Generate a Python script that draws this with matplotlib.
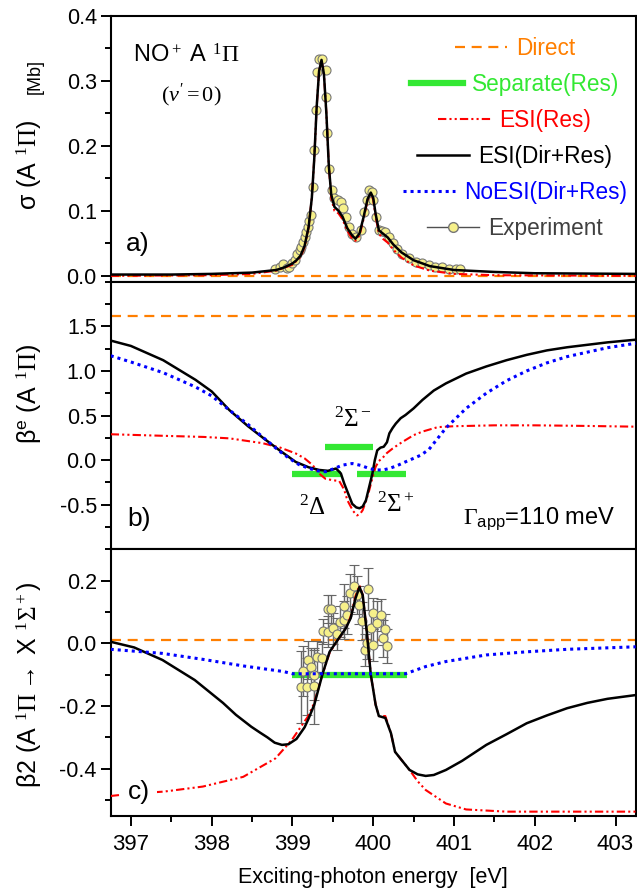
import matplotlib
matplotlib.use('Agg')
import matplotlib.pyplot as plt
from matplotlib.lines import Line2D
from matplotlib.ticker import MultipleLocator, FormatStrFormatter, FixedLocator

plt.rcParams['font.family'] = ['Liberation Sans', 'DejaVu Sans']
plt.rcParams['mathtext.fontset'] = 'custom'
plt.rcParams['mathtext.rm'] = 'Liberation Serif'
plt.rcParams['mathtext.it'] = 'Liberation Serif:italic'
plt.rcParams['mathtext.sf'] = 'Liberation Sans'
plt.rcParams['axes.unicode_minus'] = False

# --- colours / styles ---
C_DIR = '#ff7f00'
C_SEP = '#33e833'
C_RED = '#ff0000'
C_BLUE = '#0000ff'
C_YEL = '#f6f08a'
LS_DIR = (0, (4.5, 3))
LS_RED = (0, (4, 1.5, 1, 1.5, 1, 1.5))
LS_BLUE = (0, (1, 1.3))

XMIN, XMAX = 396.75, 403.25

# --- panel a) cross section ---
direct_a = 0.0
esi_a_x = [396.75, 397.5, 398.0, 398.5, 398.8, 398.9, 399.0, 399.05, 399.1, 399.15, 399.2, 399.24,
           399.27, 399.30, 399.33, 399.36, 399.39, 399.42, 399.45, 399.48, 399.52, 399.57, 399.62,
           399.68, 399.74, 399.78, 399.83, 399.88, 399.93, 399.97, 400.0, 400.03, 400.07, 400.12,
           400.18, 400.25, 400.35, 400.5, 400.7, 401.0, 401.5, 402.0, 403.25]
esi_a_y = [0.002, 0.002, 0.003, 0.005, 0.009, 0.013, 0.019, 0.024, 0.031, 0.046, 0.075, 0.12,
           0.18, 0.26, 0.315, 0.332, 0.31, 0.25, 0.17, 0.125, 0.106, 0.100, 0.091, 0.073, 0.062,
           0.057, 0.065, 0.090, 0.118, 0.128, 0.120, 0.095, 0.070, 0.065, 0.059, 0.048, 0.036,
           0.024, 0.015, 0.009, 0.006, 0.004, 0.003]
res_a_x = [396.75, 398.0, 398.5, 398.8, 399.0, 399.1, 399.15, 399.2, 399.24, 399.27, 399.30, 399.33,
           399.36, 399.39, 399.42, 399.45, 399.48, 399.52, 399.57, 399.62, 399.68, 399.74, 399.78,
           399.83, 399.88, 399.93, 399.97, 400.0, 400.03, 400.07, 400.12, 400.18, 400.25, 400.35,
           400.5, 400.7, 401.0, 401.5, 403.25]
res_a_y = [0.0, 0.001, 0.003, 0.008, 0.017, 0.029, 0.044, 0.074, 0.12, 0.18, 0.26, 0.315,
           0.331, 0.31, 0.25, 0.17, 0.12, 0.100, 0.096, 0.087, 0.069, 0.057, 0.054, 0.062,
           0.087, 0.116, 0.126, 0.117, 0.091, 0.065, 0.057, 0.051, 0.040, 0.028, 0.016, 0.008,
           0.003, 0.001, 0.0]
exp_a_x = [398.78, 398.84, 398.88, 398.93, 398.96, 399.00, 399.03, 399.06, 399.09, 399.11, 399.13,
           399.15, 399.17, 399.19, 399.21, 399.23, 399.25, 399.27, 399.29, 399.30, 399.33, 399.37,
           399.41, 399.42, 399.43, 399.455, 399.49, 399.52, 399.56, 399.60, 399.63, 399.66, 399.70,
           399.74, 399.79, 399.85, 399.89, 399.92, 399.95, 399.98, 400.00, 400.03, 400.07, 400.11,
           400.15, 400.20, 400.24, 400.30, 400.36, 400.44, 400.53, 400.61, 400.69, 400.77, 400.85,
           400.94, 401.02, 401.08]
exp_a_y = [0.010, 0.013, 0.0175, 0.012, 0.014, 0.019, 0.025, 0.034, 0.040, 0.045, 0.052,
           0.059, 0.067, 0.075, 0.085, 0.093, 0.137, 0.193, 0.255, 0.314, 0.334, 0.334,
           0.316, 0.275, 0.219, 0.165, 0.132, 0.119, 0.116, 0.114, 0.104, 0.091, 0.075,
           0.065, 0.059, 0.070, 0.098, 0.116, 0.132, 0.129, 0.116, 0.091, 0.070, 0.069,
           0.068, 0.060, 0.050, 0.042, 0.034, 0.027, 0.022, 0.019, 0.016, 0.014, 0.013,
           0.011, 0.011, 0.010]

# --- panel b) beta_e ---
direct_b = 1.62
sep_b = [(399.0, 399.6, -0.15), (399.4, 400.0, 0.15), (399.8, 400.4, -0.15)]
esi_b_x = [396.75, 397.0, 397.4, 397.8, 398.0, 398.22, 398.45, 398.65, 398.84, 399.04, 399.2,
           399.33, 399.44, 399.54, 399.6, 399.64, 399.69, 399.74, 399.79, 399.83, 399.87, 399.91,
           399.95, 399.99, 400.02, 400.05, 400.09, 400.13, 400.17, 400.2, 400.24, 400.28, 400.34,
           400.40, 400.5, 400.61, 400.75, 400.9, 401.15, 401.4, 401.65, 401.9, 402.15, 402.4,
           402.9, 403.25]
esi_b_y = [1.34, 1.28, 1.12, 0.90, 0.77, 0.56, 0.38, 0.24, 0.11, -0.02, -0.08,
           -0.11, -0.12, -0.094, -0.15, -0.26, -0.375, -0.49, -0.53, -0.54, -0.52, -0.45,
           -0.3, -0.15, 0.0, 0.11, 0.14, 0.15, 0.2, 0.30, 0.36, 0.41, 0.47,
           0.506, 0.58, 0.675, 0.78, 0.86, 0.97, 1.05, 1.12, 1.18, 1.23, 1.265,
           1.32, 1.35]
res_b_x = [396.75, 397.5, 397.9, 398.22, 398.63, 398.85, 399.04, 399.15, 399.25, 399.33, 399.41,
           399.5, 399.58, 399.64, 399.68, 399.75, 399.80, 399.84, 399.87, 399.91, 399.95, 399.99,
           400.03, 400.07, 400.11, 400.17, 400.24, 400.32, 400.40, 400.5, 400.61, 400.8, 401.0,
           401.5, 402.0, 402.5, 403.25]
res_b_y = [0.29, 0.27, 0.26, 0.244, 0.19, 0.14, 0.075, 0.02, -0.056, -0.15, -0.21,
           -0.225, -0.235, -0.33, -0.45, -0.57, -0.62, -0.6, -0.56, -0.46, -0.34, -0.2,
           -0.075, -0.01, 0.019, 0.08, 0.13, 0.18, 0.225, 0.28, 0.32, 0.37, 0.38,
           0.39, 0.39, 0.385, 0.375]
noesi_b_x = [396.75, 397.0, 397.4, 397.8, 398.0, 398.22, 398.45, 398.63, 398.84, 398.96, 399.08,
             399.21, 399.31, 399.41, 399.5, 399.62, 399.74, 399.85, 399.95, 400.03, 400.12, 400.2,
             400.3, 400.40, 400.5, 400.59, 400.69, 400.9, 401.15, 401.4, 401.65, 401.9, 402.15,
             402.4, 402.9, 403.25]
noesi_b_y = [1.17, 1.10, 0.98, 0.82, 0.72, 0.56, 0.40, 0.26, 0.10, 0.02, -0.05,
             -0.094, -0.12, -0.13, -0.10, -0.056, -0.038, -0.06, -0.094, -0.11, -0.11, -0.094,
             -0.06, -0.019, 0.02, 0.056, 0.12, 0.36, 0.58, 0.75, 0.89, 1.0, 1.09,
             1.16, 1.26, 1.31]

# --- panel c) beta2 ---
direct_c = 0.01
sep_c = [(399.0, 400.42, -0.1)]
esi_c_x = [396.75, 397.04, 397.39, 397.79, 398.14, 398.3, 398.49, 398.6, 398.69, 398.78, 398.87,
           398.95, 399.05, 399.15, 399.2, 399.27, 399.37, 399.46, 399.56, 399.66, 399.72, 399.78,
           399.83, 399.87, 399.92, 399.97, 400.03, 400.07, 400.15, 400.22, 400.27, 400.35, 400.45,
           400.55, 400.65, 400.75, 400.9, 401.1, 401.4, 401.65, 401.9, 402.15, 402.4, 402.65,
           402.9, 403.25]
esi_c_y = [0.005, -0.013, -0.053, -0.117, -0.19, -0.228, -0.266, -0.285, -0.30, -0.317, -0.324,
           -0.322, -0.305, -0.268, -0.24, -0.196, -0.10, -0.027, 0.011, 0.048, 0.08, 0.143,
           0.18, 0.154, 0.037, -0.10, -0.196, -0.232, -0.238, -0.287, -0.346, -0.372, -0.404,
           -0.418, -0.423, -0.42, -0.404, -0.375, -0.324, -0.29, -0.255, -0.23, -0.207, -0.19,
           -0.177, -0.165]
res_c_x = [396.75, 397.0, 397.41, 397.89, 398.39, 398.79, 398.99, 399.19, 399.27, 399.37, 399.46,
           399.56, 399.66, 399.72, 399.78, 399.83, 399.87, 399.92, 399.97, 400.03, 400.07, 400.15,
           400.22, 400.27, 400.35, 400.45, 400.55, 400.65, 400.9, 401.15, 401.65, 403.25]
res_c_y = [-0.487, -0.48, -0.473, -0.457, -0.426, -0.367, -0.309, -0.234, -0.19, -0.10, -0.03,
           0.01, 0.048, 0.085, 0.15, 0.185, 0.155, 0.037, -0.10, -0.196, -0.232, -0.232,
           -0.287, -0.346, -0.372, -0.404, -0.44, -0.468, -0.511, -0.53, -0.537, -0.537]
noesi_c_x = [396.75, 397.39, 397.89, 398.39, 398.89, 399.0, 400.4, 400.65, 400.9, 401.4, 401.9,
             402.4, 403.25]
noesi_c_y = [-0.019, -0.032, -0.051, -0.072, -0.09, -0.097, -0.097, -0.074, -0.058, -0.037, -0.027,
             -0.019, -0.011]
exp_c_x = [399.10, 399.13, 399.18, 399.19, 399.23, 399.27, 399.27, 399.31, 399.36, 399.38, 399.44,
           399.44, 399.48, 399.50, 399.55, 399.59, 399.64, 399.64, 399.67, 399.71, 399.76, 399.80,
           399.83, 399.86, 399.90, 399.92, 399.94, 399.97, 400.00, 400.00, 400.05, 400.10, 400.12,
           400.15, 400.17]
exp_c_y = [-0.140, -0.088, -0.138, -0.053, -0.074, -0.136, -0.101, -0.043, -0.046, 0.039, 0.037,
           0.109, 0.109, 0.048, 0.030, 0.069, 0.120, 0.074, 0.090, 0.160, 0.184, 0.154,
           0.122, 0.071, -0.021, 0.000, 0.173, 0.048, 0.096, -0.005, 0.066, 0.090, 0.016,
           0.045, -0.009]
exp_c_err = [0.115, 0.08, 0.09, 0.06, 0.06, 0.12, 0.08, 0.05, 0.05, 0.04, 0.05,
             0.045, 0.045, 0.05, 0.05, 0.05, 0.07, 0.06, 0.06, 0.06, 0.065, 0.06,
             0.06, 0.06, 0.05, 0.05, 0.066, 0.06, 0.05, 0.05, 0.07, 0.05, 0.06,
             0.05, 0.055]

fig = plt.figure(figsize=(6.37, 8.96), dpi=100)
L, W = 0.1738, 0.8242
ax_a = fig.add_axes([L, 0.6856, W, 0.2969])
ax_b = fig.add_axes([L, 0.3869, W, 0.2987])
ax_c = fig.add_axes([L, 0.0896, W, 0.2973])


def style(ax):
    ax.set_xlim(XMIN, XMAX)
    ax.xaxis.set_major_locator(MultipleLocator(1))
    ax.xaxis.set_minor_locator(MultipleLocator(0.5))
    for s in ax.spines.values():
        s.set_linewidth(1.5)
    ax.tick_params(which='both', direction='out', width=1.4, top=False, right=False)
    ax.tick_params(which='major', length=7)
    ax.tick_params(which='minor', length=4)
    ax.tick_params(axis='y', pad=3, labelsize=15.5)
    ax.tick_params(axis='x', pad=6, labelsize=16)


def hsegs(ax, segs):
    for x0, x1, y in segs:
        ax.plot([x0, x1], [y, y], color=C_SEP, lw=4.5, solid_capstyle='butt', zorder=2)


# a)
style(ax_a)
ax_a.set_ylim(-0.009, 0.4)
ax_a.yaxis.set_major_locator(MultipleLocator(0.1))
ax_a.yaxis.set_minor_locator(MultipleLocator(0.05))
ax_a.yaxis.set_major_formatter(FormatStrFormatter('%.1f'))
ax_a.tick_params(axis='x', labelbottom=False)
ax_a.axhline(direct_a, color=C_DIR, ls=LS_DIR, lw=1.6, zorder=1)
ax_a.plot(exp_a_x, exp_a_y, 'o', mfc=C_YEL, mec='#777777', mew=0.8, ms=6.5, zorder=3)
ax_a.plot(res_a_x, res_a_y, color=C_RED, ls=LS_RED, lw=1.5, zorder=4)
ax_a.plot(esi_a_x, esi_a_y, color='k', lw=1.8, zorder=5)
ax_a.set_ylabel(r'σ (A $^1\Pi$)', fontsize=18)
ax_a.yaxis.set_label_coords(-0.127, 0.44)
ax_a.text(-0.127, 0.77, '[Mb]', transform=ax_a.transAxes, rotation=90,
          ha='right', va='center', fontsize=13)
ax_a.text(0.1445, 0.848, r'NO$^+$ A $^1\Pi$', transform=ax_a.transAxes,
          ha='center', va='center', fontsize=17)
ax_a.text(0.154, 0.702, r"$(v'=0)$", transform=ax_a.transAxes,
          ha='center', va='center', fontsize=16)
ax_a.text(0.052, 0.14, 'a)', transform=ax_a.transAxes, ha='center', va='center', fontsize=19)

handles = [Line2D([], [], color=C_DIR, ls=LS_DIR, lw=1.6),
           Line2D([], [], color=C_SEP, lw=4.5),
           Line2D([], [], color=C_RED, ls=LS_RED, lw=1.5),
           Line2D([], [], color='k', lw=1.8),
           Line2D([], [], color=C_BLUE, ls=LS_BLUE, lw=2.2),
           Line2D([], [], color='#505050', lw=1, marker='o', mfc=C_YEL, mec='#777777', ms=7)]
labels = ['Direct', 'Separate(Res)', 'ESI(Res)', 'ESI(Dir+Res)', 'NoESI(Dir+Res)', 'Experiment']
leg = ax_a.legend(handles, labels, loc='upper center', bbox_to_anchor=(0.77, 0.995),
                  frameon=False, fontsize=16.3, handlelength=2.3, handletextpad=0.4,
                  labelspacing=0.57,
                  labelcolor=[C_DIR, C_SEP, C_RED, 'k', C_BLUE, '#404040'])
for col in leg._legend_handle_box.get_children():
    col.align = 'center'

# b)
style(ax_b)
ax_b.set_ylim(-1.0, 2.0)
ax_b.yaxis.set_major_locator(FixedLocator([-0.5, 0.0, 0.5, 1.0, 1.5]))
ax_b.yaxis.set_minor_locator(MultipleLocator(0.25))
ax_b.yaxis.set_major_formatter(FormatStrFormatter('%.1f'))
ax_b.tick_params(axis='x', labelbottom=False)
ax_b.axhline(direct_b, color=C_DIR, ls=LS_DIR, lw=1.6, zorder=1)
hsegs(ax_b, sep_b)
ax_b.plot(res_b_x, res_b_y, color=C_RED, ls=LS_RED, lw=1.5, zorder=3)
ax_b.plot(esi_b_x, esi_b_y, color='k', lw=1.8, zorder=4)
ax_b.plot(noesi_b_x, noesi_b_y, color=C_BLUE, ls=LS_BLUE, lw=2.2, zorder=5)
ax_b.set_ylabel(r'β$^{\mathsf{e}}$ (A $^1\Pi$)', fontsize=18)
ax_b.yaxis.set_label_coords(-0.127, 0.58)
ax_b.text(399.75, 0.45, r'$^2\Sigma^-$', ha='center', va='center', fontsize=18)
ax_b.text(399.245, -0.53, r'$^2\Delta$', ha='center', va='center', fontsize=18)
ax_b.text(400.28, -0.50, r'$^2\Sigma^+$', ha='center', va='center', fontsize=18)
ax_b.text(0.816, 0.115, r'$\Gamma_{\mathsf{app}}$=110 meV', transform=ax_b.transAxes,
          ha='center', va='center', fontsize=17)
ax_b.text(0.054, 0.113, 'b)', transform=ax_b.transAxes, ha='center', va='center', fontsize=19)

# c)
style(ax_c)
ax_c.set_ylim(-0.55, 0.3)
ax_c.yaxis.set_major_locator(FixedLocator([-0.4, -0.2, 0.0, 0.2]))
ax_c.yaxis.set_minor_locator(MultipleLocator(0.1))
ax_c.yaxis.set_major_formatter(FormatStrFormatter('%.1f'))
ax_c.axhline(direct_c, color=C_DIR, ls=LS_DIR, lw=1.6, zorder=1)
hsegs(ax_c, sep_c)
ax_c.errorbar(exp_c_x, exp_c_y, yerr=exp_c_err, fmt='o', mfc=C_YEL, mec='#777777', mew=0.8,
              ms=6.5, ecolor='#666666', elinewidth=1, capsize=3.5, capthick=1, zorder=3)
ax_c.plot(res_c_x, res_c_y, color=C_RED, ls=LS_RED, lw=1.5, zorder=4)
ax_c.plot(esi_c_x, esi_c_y, color='k', lw=1.8, zorder=5)
ax_c.plot(noesi_c_x, noesi_c_y, color=C_BLUE, ls=LS_BLUE, lw=2.2, zorder=6)
ax_c.set_ylabel(r'β2 (A $^1\Pi\rightarrow$ X $^1\Sigma^+$)', fontsize=18)
ax_c.yaxis.set_label_coords(-0.127, 0.49)
ax_c.text(0.054, 0.09, 'c)', transform=ax_c.transAxes, ha='center', va='center', fontsize=19,
          zorder=7, bbox=dict(boxstyle='square,pad=0.25', fc='white', ec='none'))
ax_c.set_xlabel('Exciting-photon energy  [eV]', fontsize=15.5, labelpad=9)

fig.savefig('out.png', dpi=100)
